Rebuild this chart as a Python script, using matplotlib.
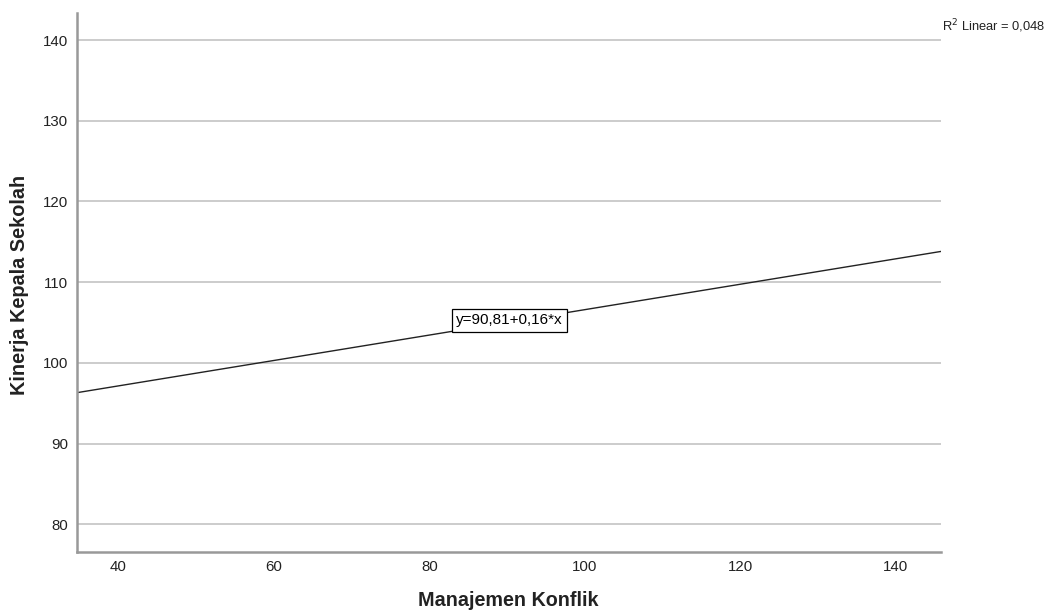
import matplotlib
matplotlib.use("Agg")
import matplotlib.pyplot as plt

plt.rcParams['font.family'] = ['Liberation Sans', 'DejaVu Sans']

# regression line endpoints
x_fit = [34.65, 145.75]
y_fit = [96.3, 113.8]

x_ticks = [40, 60, 80, 100, 120, 140]
y_ticks = [80, 90, 100, 110, 120, 130, 140]

x_label = "Manajemen Konflik"
y_label = "Kinerja Kepala Sekolah"
persamaan = "y=90,81+0,16*x"
r2_text = "R$^2$ Linear = 0,048"

fig = plt.figure(figsize=(10.48, 6.11), dpi=100)
ax = fig.add_axes([76.7 / 1048, 1 - 551.7 / 611, (940.7 - 76.7) / 1048, (551.7 - 13) / 611])

ax.set_xlim(34.65, 145.75)
ax.set_ylim(76.6, 143.35)

ax.set_yticks(y_ticks)
ax.set_xticks(x_ticks)
ax.tick_params(length=0, labelsize=10.8, pad=6, colors='#222222')
ax.grid(True, axis='y', color='#c8c8c8', linewidth=1.3)
ax.set_axisbelow(True)

for s in ['top', 'right']:
    ax.spines[s].set_visible(False)
for s in ['left', 'bottom']:
    ax.spines[s].set_color('#999999')
    ax.spines[s].set_linewidth(1.8)

ax.plot(x_fit, y_fit, color='#222222', linewidth=1.0)

ax.text(90.3, 105.27, persamaan, fontsize=11, ha='center', va='center',
        bbox=dict(boxstyle='square,pad=0.3', facecolor='white', edgecolor='black', linewidth=0.9))

fig.text(20 / 1048, 1 - 285 / 611, y_label, rotation=90, ha='center', va='center',
         fontsize=14.3, fontweight='bold', color='#222222')
fig.text(508 / 1048, 1 - 600 / 611, x_label, ha='center', va='center',
         fontsize=14.2, fontweight='bold', color='#222222')
fig.text(942 / 1048, 1 - 26 / 611, r2_text, ha='left', va='center', fontsize=9.3, color='#222222')

fig.savefig("out.png", dpi=100)
